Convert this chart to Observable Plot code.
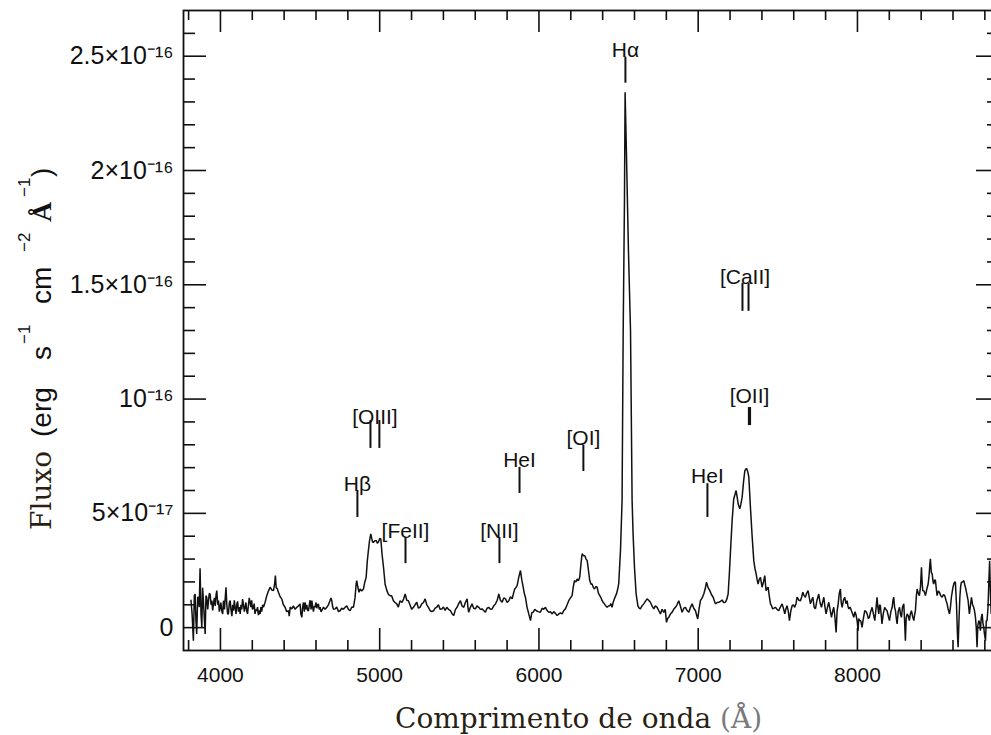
<!DOCTYPE html>
<html><head><meta charset="utf-8">
<script src="https://cdn.jsdelivr.net/npm/d3@7"></script>
<script src="https://cdn.jsdelivr.net/npm/@observablehq/plot@0.6"></script>
<style>
html,body{margin:0;padding:0;background:#fff;overflow:hidden;}
#chart{width:991px;height:735px;overflow:hidden;}
#chart svg{max-width:none !important;}
#xtitle{position:absolute;left:395px;top:705px;font-family:'DejaVu Serif',serif;font-size:28px;line-height:28px;color:#2a1f14;white-space:nowrap;}
#xtitle .unit{color:#7a7a7a;}
#ytitle{position:absolute;left:28px;top:530px;width:380px;height:28px;transform-origin:0 0;transform:rotate(-90deg);white-space:nowrap;color:#111;}
#ytitle span{position:absolute;top:0;font-family:'Liberation Sans',Arial,sans-serif;font-size:28px;line-height:28px;}
#ytitle span.serif{font-family:'DejaVu Serif',serif;color:#2a1f14;}
#ytitle span.sup{font-size:17px;line-height:17px;top:-12px;}
#ytitle span.ang{font-family:'Liberation Serif',serif;font-weight:bold;}
</style></head><body><div id="chart"></div><div id="xtitle"></div><div id="ytitle"></div>
<script>
// Spectrum: wavelength (Å) and flux (units of 1e-17 erg s^-1 cm^-2 Å^-1)
const wavelength = [
3815,3822,3830,3836,3841,3846,3851,3857,3862,3867,3872,3878,3883,3888,3893,3898,3904,3909,3914,3920,
3925,3930,3935,3941,3946,3951,3956,3962,3967,3972,3977,3983,3988,3993,3998,4003,4008,4014,4019,4025,
4030,4035,4040,4045,4050,4056,4061,4066,4072,4077,4082,4087,4092,4098,4103,4108,4113,4118,4124,4129,
4134,4139,4144,4150,4155,4160,4165,4170,4176,4181,4186,4191,4196,4201,4207,4212,4217,4222,4228,4233,
4238,4243,4249,4254,4259,4265,4270,4280,4291,4301,4312,4322,4333,4340,4345,4350,4357,4364,4375,4385,
4395,4406,4416,4427,4432,4438,4448,4458,4469,4479,4490,4500,4505,4511,4516,4521,4527,4532,4537,4542,
4548,4553,4558,4563,4569,4574,4579,4584,4590,4594,4600,4605,4610,4615,4620,4626,4631,4636,4647,4657,
4668,4678,4689,4694,4699,4705,4710,4720,4730,4741,4751,4762,4772,4783,4793,4804,4814,4825,4835,4845,
4852,4856,4862,4870,4877,4887,4898,4905,4915,4922,4929,4936,4944,4950,4956,4961,4970,4978,4985,4992,
5000,5007,5015,5024,5034,5045,5055,5065,5075,5086,5096,5107,5117,5128,5140,5150,5160,5170,5180,5190,
5201,5212,5222,5233,5243,5254,5264,5275,5285,5296,5306,5317,5327,5338,5348,5358,5369,5379,5390,5400,
5411,5421,5432,
5444,5455,5465,5476,5486,5496,5507,5517,5528,5538,5549,5554,5559,5570,5580,5590,5601,5611,5622,5632,
5643,5653,5664,5674,5685,5695,5706,5716,5727,5738,5748,5758,5769,5779,5790,5800,5811,5821,5832,5840,
5848,5855,5863,5873,5884,5892,5901,5908,5915,5925,5936,5947,5955,5963,5974,5984,5995,6009,6020,6030,
6041,6051,6062,6072,6083,6093,6104,6114,6125,6135,6146,6156,6166,6177,6187,6198,6208,6216,6223,6232,
6240,6248,6256,6264,6271,6280,6288,6296,6303,6311,6319,6327,6334,6342,6349,6357,6365,6374,6382,6390,
6397,6404,6411,6420,6428,6436,6445,6452,6459,6466,6474,6482,6488,6495,
6501,6512,6522,6529,6537,6541,6549,6562,6575,6585,6591,6600,6610,
6621,6629,6637,6647,6658,6668,6679,6689,6700,6710,6721,6731,6742,6752,6763,6773,6784,6793,6801,6808,
6815,6826,6836,6846,6857,6867,6878,6888,6899,6910,6920,6930,6941,6952,6962,6972,6983,6990,6997,7005,
7014,7025,7035,7044,7052,7062,7073,7083,7094,
7108,7119,7129,7140,7150,7160,7171,7180,7188,7196,7203,7213,7223,7238,7245,7251,7261,7268,7276,7285,
7293,7300,7305,7312,7318,7328,7339,7349,7356,7364,7370,7376,7383,7391,7401,7410,7418,7426,7432,7439,
7446,7454,7461,7468,7476,7485,7495,7506,7516,7527,7535,7544,7550,7558,7566,7573,7582,7590,7598,7606,
7614,7621,7632,7642,7650,7657,7665,7673,7681,7690,7698,7705,7712,7720,7728,7736,7746,7757,7765,7774,
7781,7789,7796,7803,7812,7820,7828,7837,7844,7851,7858,7866,7872,7879,7886,7893,7898,7904,7912,7920,
7928,7935,7940,7946,7954,7962,7970,7977,7985,7992,7998,8004,8008,8013,8021,8029,8037,8046,8054,8061,
8068,8075,8083,8092,8100,8109,8116,8123,8128,8134,8139,8144,8150,8154,8162,8171,8178,8186,8194,8201,
8210,8218,8223,8228,8233,8239,8244,8249,8256,8264,8270,8276,8283,8291,8296,8301,8306,8312,8320,8326,
8332,8339,8346,8354,8360,8364,8370,8375,8382,8389,8396,8402,8406,8410,8418,8427,8436,8444,8450,8454,
8458,8464,8469,8475,8479,8485,8490,8495,8500,8508,8515,8523,8532,8540,8548,8556,8563,8570,8578,8584,
8590,8598,8605,8610,8615,8622,8628,8632,8637,8643,8648,8653,8660,8668,8673,8678,8686,8695,8700,8703,
8710,8716,8723,8730,8736,8741,8746,8751,8756,8762,8768,8772,8777,8783,8788,8793,8798,8804,8809,8814,
8820,8825,8830,8835,8840,8846,8855,8865,8880
];
const flux = [
1.20,0.60,-0.57,1.40,1.47,0.30,-0.28,1.33,1.33,0.90,2.60,0.60,0.01,1.75,1.18,0.50,-0.28,1.40,1.33,0.80,
1.18,1.50,1.47,1.00,1.18,0.75,1.04,1.30,0.95,1.40,1.62,1.00,1.18,0.70,0.89,1.10,0.74,0.60,1.18,0.80,
1.30,1.77,1.00,0.60,0.60,1.10,1.18,0.80,0.50,1.00,0.74,1.20,0.90,0.60,1.04,1.15,0.70,0.90,0.60,1.00,
0.80,1.25,1.04,0.70,0.90,1.10,0.74,0.60,1.00,1.30,1.11,0.90,1.20,0.80,0.89,1.05,0.60,0.80,0.74,0.90,
0.55,0.75,0.60,0.90,0.70,1.00,0.89,1.10,1.40,1.60,1.77,1.65,1.62,1.90,2.28,1.75,1.70,1.55,1.35,1.26,
1.00,0.89,0.70,0.74,0.50,0.90,0.82,0.95,0.80,0.89,0.95,1.04,0.60,0.45,0.90,1.10,0.70,1.11,0.80,1.00,
0.75,0.74,1.00,1.20,0.80,1.18,0.90,0.70,0.95,0.89,1.10,0.85,1.00,1.04,0.80,0.90,0.70,0.74,0.90,0.80,
0.89,1.00,1.20,1.30,1.18,0.90,0.80,0.82,0.90,0.70,0.74,0.85,0.80,0.89,0.95,0.80,0.74,0.90,0.89,1.30,
1.90,2.06,1.80,1.55,1.69,1.60,1.69,1.95,2.20,2.90,3.37,3.80,4.10,3.90,3.73,3.74,3.80,3.81,3.70,3.74,
3.90,3.88,3.20,2.64,1.90,1.62,1.45,1.40,1.40,1.18,1.10,1.04,0.90,1.18,1.10,1.25,1.47,1.20,1.18,1.00,
0.80,0.89,1.00,1.11,0.85,0.90,1.04,1.10,1.26,1.00,0.89,0.74,0.70,0.74,0.85,0.89,1.00,0.80,0.82,0.90,
0.75,0.89,0.80,
0.74,0.60,0.53,0.80,0.89,1.05,1.18,0.95,0.89,1.10,1.26,0.90,0.67,0.90,1.04,0.85,0.82,0.95,0.89,0.80,
0.82,0.75,0.67,0.85,0.89,0.80,0.82,0.95,1.04,1.20,1.47,1.20,1.11,1.30,1.26,1.10,1.18,1.35,1.26,1.50,
1.69,1.75,1.84,2.20,2.50,2.10,1.77,1.50,1.33,0.90,0.60,0.31,0.65,0.67,0.80,0.74,0.70,0.67,0.85,0.80,
0.89,0.75,0.67,0.70,0.60,0.70,0.62,0.53,0.60,0.65,0.60,0.75,0.82,1.00,1.18,1.30,1.40,1.80,2.06,2.00,
2.13,2.05,2.20,2.80,3.23,3.15,3.15,3.00,2.93,2.50,2.06,1.90,1.91,1.75,1.69,1.80,1.77,1.50,1.40,1.30,
1.18,1.10,1.04,0.95,0.89,0.95,0.96,1.05,0.89,1.10,1.26,1.40,1.50,1.70,
1.93,3.37,5.56,13.0,18.7,23.42,20.9,16.5,13.0,5.56,4.12,2.63,1.49,
0.96,0.85,0.82,0.95,1.04,1.15,1.26,1.20,1.11,0.95,0.82,0.95,0.89,0.75,0.60,0.80,0.67,0.80,0.23,0.40,
0.45,0.60,0.67,0.80,0.89,1.00,1.18,0.95,0.67,0.85,0.89,0.75,0.67,0.90,1.04,0.85,0.74,0.55,0.38,0.80,
1.18,1.30,1.47,1.70,1.99,1.75,1.62,1.45,1.33,
1.04,1.10,1.11,1.15,1.21,1.10,1.11,1.25,1.47,2.40,3.37,4.68,5.63,6.00,5.70,5.41,5.20,5.40,5.71,6.40,
6.87,6.95,6.95,6.80,6.58,5.27,3.96,2.93,2.60,2.35,2.10,1.91,2.10,2.20,1.77,2.00,2.28,1.62,1.70,1.77,
1.40,1.04,0.95,0.82,0.85,0.89,0.80,0.74,0.90,1.04,0.85,0.60,0.80,0.96,0.70,0.31,0.75,0.96,1.00,0.89,
1.05,1.33,1.20,1.18,1.35,1.55,1.40,1.33,1.50,1.62,1.30,1.04,1.20,1.33,0.90,0.82,1.20,1.47,1.10,0.89,
1.10,1.33,0.90,0.60,0.90,1.11,0.80,0.45,0.70,0.89,0.50,-0.21,0.70,1.04,1.50,1.69,1.10,0.89,1.20,1.33,
1.05,1.18,0.95,0.82,0.90,0.74,0.60,0.45,0.70,0.53,0.30,-0.13,0.40,0.31,0.30,0.01,0.40,0.74,0.70,0.60,
0.40,0.45,0.70,0.89,0.60,0.31,0.80,1.33,0.90,0.60,1.00,0.96,0.50,0.16,0.60,0.89,0.80,0.74,0.50,0.31,
0.70,0.89,1.20,1.33,0.90,0.74,0.40,0.16,0.70,0.89,0.60,0.45,0.90,1.04,0.30,-0.57,0.40,0.60,0.50,0.31,
0.60,0.74,0.50,0.31,0.60,0.74,1.40,1.69,1.50,1.40,1.80,2.64,2.00,1.62,1.60,1.40,1.70,1.91,2.30,2.70,
3.01,2.40,2.35,2.00,1.91,2.10,2.06,1.70,1.40,1.60,1.55,1.40,1.33,1.45,1.40,1.20,1.04,0.80,0.60,0.90,
1.33,1.70,1.91,2.00,1.99,1.00,-0.30,-0.86,0.20,1.33,1.80,1.99,2.00,2.06,1.90,1.77,1.50,1.18,0.80,0.60,
1.00,1.33,1.00,0.89,0.70,0.45,0.00,-0.86,0.10,0.31,0.20,-0.13,0.40,0.60,0.20,0.01,-0.30,-0.57,0.30,0.31,
0.90,2.00,2.93,1.50,0.60,0.90,1.10,0.80,1.00
];

// Axis ticks
const xMajorTicks = [4000, 5000, 6000, 7000, 8000];
const xMinorTicks = [3800,4200,4400,4600,4800,5200,5400,5600,5800,6200,6400,6600,6800,7200,7400,7600,7800,8200,8400,8600,8800];
const yMajorTicks = [0, 5, 10, 15, 20, 25];
const yMinorTicks = [1,2,3,4,6,7,8,9,11,12,13,14,16,17,18,19,21,22,23,24,26];
const yTickBase = ["0", "5×10", "10", "1.5×10", "2×10", "2.5×10"];
const yTickExp = ["", "⁻¹⁷", "⁻¹⁶", "⁻¹⁶", "⁻¹⁶", "⁻¹⁶"];

// Emission-line identification markers
const markerLam = [4860, 4942, 4998, 5162, 5752, 5878, 6279, 6543, 7058, 7322, 7278, 7316];
const markerTop = [6.00, 9.06, 9.06, 3.94, 3.94, 7.01, 7.97, 24.96, 6.30, 9.63, 15.06, 15.06];
const markerBottom = [4.82, 7.84, 7.84, 2.80, 2.80, 5.87, 6.83, 23.82, 4.82, 8.84, 13.84, 13.84];
const markerHeavy = [false, false, false, false, false, false, false, false, false, true, false, false];

const labelText = ["Hβ", "[OIII]", "[FeII]", "[NII]", "HeI", "[OI]", "Hα", "HeI", "[OII]", "[CaII]"];
const labelLam = [4860, 4970, 5162, 5752, 5878, 6279, 6543, 7058, 7322, 7294];
const labelY = [6.00, 8.93, 3.94, 3.94, 7.01, 7.97, 24.96, 6.35, 9.81, 15.02];

const xTitle = "Comprimento de onda";
const xUnit = "(Å)";
const yTitleWord = "Fluxo";

try {
  const spectrum = wavelength.map((w, i) => ({w, f: flux[i]}));
  const markers = markerLam.map((lam, i) => ({lam, top: markerTop[i], bottom: markerBottom[i], heavy: markerHeavy[i]}));
  const labels = labelText.map((text, i) => ({text, lam: labelLam[i], y: labelY[i]}));

  const W = 1000, H = 735, ML = 183, MR = 1, MT = 10, MB = 85;
  const X0 = 3768, X1 = 8892, Y0 = -1, Y1 = 27;
  const xPerPx = (X1 - X0) / (W - ML - MR);
  const yPerPx = (Y1 - Y0) / (H - MT - MB);
  const INK = "#111";
  const tickStyle = {stroke: INK, strokeWidth: 1.6};
  const leftTicks = (data, len) => Plot.ruleY(data, {y: d => d, x1: () => X0, x2: () => X0 + len * xPerPx, ...tickStyle});
  const rightTicks = (data, len) => Plot.ruleY(data, {y: d => d, x1: () => X1 - len * xPerPx, x2: () => X1, ...tickStyle});
  const bottomTicks = (data, len) => Plot.ruleX(data, {x: d => d, y1: () => Y0, y2: () => Y0 + len * yPerPx, ...tickStyle});
  const topTicks = (data, len) => Plot.ruleX(data, {x: d => d, y1: () => Y1 - len * yPerPx, y2: () => Y1, ...tickStyle});

  const plot = Plot.plot({
    width: W, height: H,
    marginLeft: ML, marginRight: MR, marginTop: MT, marginBottom: MB,
    x: {domain: [X0, X1]},
    y: {domain: [Y0, Y1]},
    style: {fontFamily: "'Liberation Sans', Arial, sans-serif", background: "white", color: INK, maxWidth: "none"},
    marks: [
      Plot.line(spectrum, {x: "w", y: "f", stroke: INK, strokeWidth: 1.5, strokeLinejoin: "miter"}),
      Plot.ruleX(markers, {x: "lam", y1: "bottom", y2: "top", stroke: INK, strokeWidth: d => d.heavy ? 3.2 : 2}),
      Plot.text(labels, {x: "lam", y: "y", text: "text", lineAnchor: "bottom", fontSize: 21, fill: INK}),
      leftTicks(yMajorTicks, 23), leftTicks(yMinorTicks, 12),
      rightTicks(yMajorTicks, 23), rightTicks(yMinorTicks, 12),
      bottomTicks(xMajorTicks, 22), bottomTicks(xMinorTicks, 10),
      topTicks(xMajorTicks, 22), topTicks(xMinorTicks, 10),
      Plot.frame({stroke: INK, strokeWidth: 1.8}),
      Plot.axisX({ticks: xMajorTicks, tickSize: 0, tickPadding: 17, fontSize: 21, tickFormat: d => String(d), label: null}),
      Plot.axisY({ticks: yMajorTicks, tickSize: 0, tickPadding: 10, fontSize: 25,
        tickFormat: d => { const i = yMajorTicks.indexOf(d); return yTickBase[i] + yTickExp[i]; }, label: null})
    ]
  });
  plot.style.maxWidth = "none";
  document.getElementById("chart").appendChild(plot);

  // x-axis title (HTML)
  const xt = document.getElementById("xtitle");
  xt.appendChild(document.createTextNode(xTitle + " "));
  const unit = document.createElement("span");
  unit.className = "unit";
  unit.textContent = xUnit;
  xt.appendChild(unit);

  // y-axis title (HTML, rotated)
  const yt = document.getElementById("ytitle");
  [[yTitleWord, 0, "serif"], ["(erg", 93, ""], ["s", 170, ""], ["−1", 186, "sup"], ["cm", 226, ""],
   ["−2", 278, "sup"], ["Å", 308, "ang"], ["−1", 333, "sup"], [")", 353, ""]].forEach(([s, x, cls]) => {
    const sp = document.createElement("span");
    if (cls) sp.className = cls;
    sp.style.left = x + "px";
    sp.textContent = s;
    yt.appendChild(sp);
  });
} catch (e) {
  console.error(e);
}
</script></body></html>
